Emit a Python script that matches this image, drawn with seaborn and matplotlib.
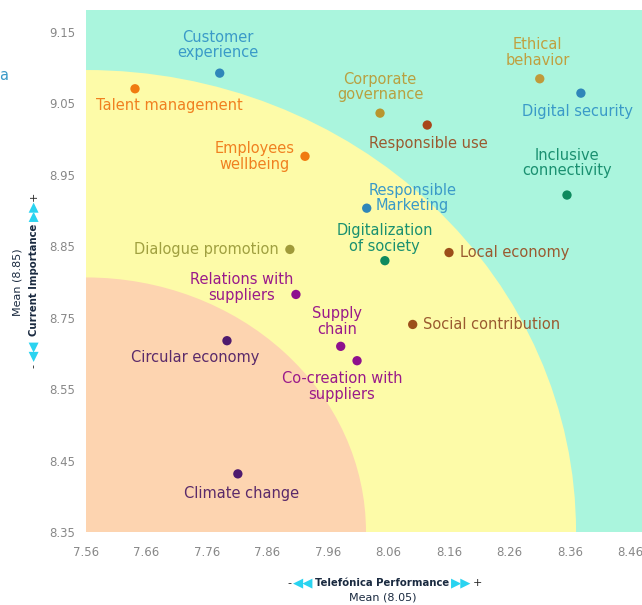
import matplotlib
matplotlib.use("Agg")
import matplotlib.pyplot as plt
from matplotlib.patches import Ellipse
import seaborn as sns
import pandas as pd

# data
topics = ["Customer experience", "Talent management", "Employees wellbeing",
          "Corporate governance", "Responsible use", "Ethical behavior",
          "Digital security", "Inclusive connectivity", "Responsible Marketing",
          "Digitalization of society", "Local economy", "Dialogue promotion",
          "Relations with suppliers", "Supply chain", "Co-creation with suppliers",
          "Social contribution", "Circular economy", "Climate change"]
performance = [7.781, 7.641, 7.922, 8.046, 8.124, 8.310, 8.378, 8.355, 8.024,
               8.054, 8.160, 7.897, 7.907, 7.981, 8.008, 8.100, 7.793, 7.811]
importance = [9.084, 9.059, 8.951, 9.020, 9.001, 9.075, 9.052, 8.889, 8.868,
              8.784, 8.797, 8.802, 8.730, 8.647, 8.624, 8.682, 8.656, 8.443]
labels = ["Customer\nexperience", "Talent management", "Employees\nwellbeing",
          "Corporate\ngovernance", "Responsible use", "Ethical\nbehavior",
          "Digital security", "Inclusive\nconnectivity", "Responsible\nMarketing",
          "Digitalization\nof society", "Local economy", "Dialogue promotion",
          "Relations with\nsuppliers", "Supply\nchain", "Co-creation with\nsuppliers",
          "Social contribution", "Circular economy", "Climate change"]
dot_colors = ["#2f86b9", "#f07a10", "#f07a10", "#b8962e", "#a8461a", "#c09a3a",
              "#2f86b9", "#0e8a5e", "#2f86b9", "#0e8a5e", "#9c4e1a", "#a09a3a",
              "#8e108e", "#8e108e", "#8e108e", "#9c4e1a", "#4e1a6e", "#4e1a6e"]
text_colors = ["#3a9ac8", "#f08020", "#f08020", "#b8a040", "#9a5a30", "#c0a040",
               "#3a9ac8", "#1a9070", "#3a9ac8", "#1a9070", "#9a5a30", "#a0a040",
               "#9a1a8a", "#9a1a8a", "#9a1a8a", "#9a5a30", "#5a2a6a", "#5a2a6a"]

x_ticks = [7.56, 7.66, 7.76, 7.86, 7.96, 8.06, 8.16, 8.26, 8.36, 8.46]
y_tick_labels = ["8.35", "8.45", "8.55", "8.75", "8.85", "8.95", "9.05", "9.15"]

# label placement: offset in pixels from the dot, horizontal alignment
placement = [(-2, 28, "center"), (34, -17, "center"), (-50, 0, "center"),
             (0, 26, "center"), (1, -18, "center"), (-2, 26, "center"),
             (-3, -18, "center"), (0, 32, "center"), (46, 10, "center"),
             (0, 22, "center"), (11, 0, "left"), (-11, 0, "right"),
             (-54, 7, "center"), (-4, 25, "center"), (-15, -26, "center"),
             (10, 0, "left"), (-32, -17, "center"), (4, -20, "center")]

df = pd.DataFrame({"topic": topics, "perf": performance, "imp": importance})

fig = plt.figure(figsize=(6.42, 6.05), dpi=100)
ax = fig.add_axes([86 / 642, 1 - 532 / 605, 1 - 86 / 642, 522 / 605])
ax.set_xlim(7.56, 8.479)
ax.set_ylim(8.35, 9.185)
ax.set_facecolor("#aaf5dd")

# background zones (quarter ellipses from the bottom-left corner)
ax.add_patch(Ellipse((7.56, 8.35), 2 * 0.810, 2 * 0.739, color="#fdfba8", lw=0, zorder=0))
ax.add_patch(Ellipse((7.56, 8.35), 2 * 0.4628, 2 * 0.4072, color="#fdd4b0", lw=0, zorder=0))

sns.scatterplot(data=df, x="perf", y="imp", hue="topic",
                palette=dict(zip(topics, dot_colors)), s=45, edgecolor="none",
                legend=False, ax=ax, zorder=3)

for i, lab in enumerate(labels):
    dx, dy, ha = placement[i]
    ax.annotate(lab, (performance[i], importance[i]), xytext=(dx, dy),
                textcoords="offset pixels", ha=ha, va="center",
                fontsize=10.5, color=text_colors[i], linespacing=1.05, zorder=4)

ax.set_xticks(x_ticks)
ax.set_xticklabels([f"{v:.2f}" for v in x_ticks])
y_pos = [8.35 + k * 0.8 / 7 for k in range(8)]
ax.set_yticks(y_pos)
ax.set_yticklabels(y_tick_labels)
ax.tick_params(length=0, labelsize=8.5, labelcolor="#888888")
ax.tick_params(axis="x", pad=10)
ax.tick_params(axis="y", pad=8)
ax.set_xlabel("")
ax.set_ylabel("")
for s in ax.spines.values():
    s.set_visible(False)

# axis titles with arrows
cyan = "#29d3f0"
fy = 1 - 583 / 605
fig.text(289 / 642, fy, "-", ha="center", va="center", fontsize=8, color="#222222")
fig.text(303 / 642, fy, "◀◀", ha="center", va="center", fontsize=9.5, color=cyan)
fig.text(382 / 642, fy, "Telefónica Performance", ha="center", va="center",
         fontsize=7.3, fontweight="bold", color="#1a2a40")
fig.text(461 / 642, fy, "▶▶", ha="center", va="center", fontsize=9.5, color=cyan)
fig.text(477 / 642, fy, "+", ha="center", va="center", fontsize=8, color="#222222")
fig.text(383 / 642, 1 - 598 / 605, "Mean (8.05)", ha="center", va="center",
         fontsize=8, color="#1a2a40")

fx = 34 / 642
fig.text(fx, 1 - 366 / 605, "-", ha="center", va="center", fontsize=8, rotation=90, color="#222222")
fig.text(fx, 1 - 351 / 605, "◀◀", ha="center", va="center", fontsize=9.5, rotation=90, color=cyan)
fig.text(fx, 1 - 280 / 605, "Current Importance", ha="center", va="center",
         fontsize=7.3, fontweight="bold", rotation=90, color="#1a2a40")
fig.text(fx, 1 - 211 / 605, "▶▶", ha="center", va="center", fontsize=9.5, rotation=90, color=cyan)
fig.text(fx, 1 - 196 / 605, "+", ha="center", va="center", fontsize=8, rotation=90, color="#222222")
fig.text(18 / 642, 1 - 282 / 605, "Mean (8.85)", ha="center", va="center",
         fontsize=8, rotation=90, color="#1a2a40")

# clipped label at the left edge of the source image
fig.text(8 / 642, 1 - 75 / 605, "a", ha="right", va="center", fontsize=10.5, color="#3a9ac8")

fig.savefig("out.png", dpi=100)
